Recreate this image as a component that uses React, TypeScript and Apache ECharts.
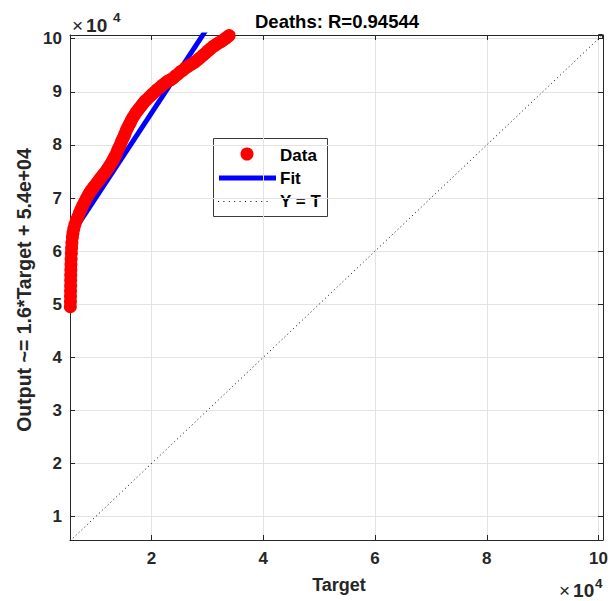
import { useEffect, useRef } from "react";
import * as echarts from "echarts";

const TITLE = "Deaths: R=0.94544";
const X_LABEL = "Target";
const Y_LABEL = "Output ~= 1.6*Target + 5.4e+04";
const LEGEND_LABELS = ["Data", "Fit", "Y = T"];

const X_LIMITS = [5420, 100800];
const Y_LIMITS = [5610, 100700];
const X_TICKS = [20000, 40000, 60000, 80000, 100000];
const Y_TICKS = [10000, 20000, 30000, 40000, 50000, 60000, 70000, 80000, 90000, 100000];

const DATA_TARGET = [
  5480, 5500, 5510, 5520, 5530, 5540, 5550, 5570, 5590, 5620, 5660, 5700, 5760, 5850, 5950,
  6100, 6300, 6550, 6850, 7100, 7400, 7700, 8050, 8350, 8650, 8950, 9250, 9550, 9850, 10150,
  10430, 10700, 11000, 11300, 11630, 11900, 12200, 12500, 12830, 13100, 13300, 13500, 13730,
  13950, 14200, 14400, 14620, 14850, 15100, 15300, 15520, 15750, 16000, 16200, 16420, 16700,
  17000, 17300, 17600, 17900, 18200, 18500, 18800, 19200, 19700, 20100, 20600, 21000, 21500,
  21900, 22400, 22800, 23100, 23500, 23900, 24300, 24800, 25200, 25660, 26100, 26560, 27000,
  27460, 27900, 28350, 28800, 29250, 29700, 30100, 30550, 31000, 31350, 31700, 32100, 32500,
  32850, 33200, 33550, 33900,
];
const DATA_OUTPUT = [
  49550, 50500, 51500, 52500, 53500, 54500, 55500, 56500, 57500, 58500, 59600, 60600, 61600,
  62600, 63400, 64200, 65000, 65800, 66500, 67200, 67900, 68600, 69300, 69900, 70500, 71000,
  71500, 71900, 72300, 72700, 73100, 73500, 73900, 74300, 74700, 75100, 75600, 76100, 76600,
  77100, 77500, 77900, 78400, 79000, 79500, 80000, 80600, 81100, 81700, 82200, 82800, 83300,
  83800, 84200, 84700, 85200, 85700, 86200, 86600, 87000, 87400, 87800, 88200, 88600, 89100,
  89500, 90000, 90400, 90800, 91200, 91600, 91900, 92100, 92300, 92600, 93000, 93400, 93800,
  94100, 94500, 94800, 95100, 95400, 95700, 96100, 96500, 96900, 97300, 97700, 98100, 98500,
  98750, 99000, 99250, 99500, 99750, 100000, 100300, 100600,
];

const FIT_TARGET = [5420, 29900];
const FIT_OUTPUT = [62670, 101840];
const IDENTITY = [5420, 100800];

const FONT = "'Liberation Sans', Arial, Helvetica, sans-serif";
const INK = "#262626";
const GRID_COLOR = "#e3e3e3";

export default function App() {
  const ref = useRef<HTMLDivElement>(null);

  useEffect(() => {
    if (!ref.current) return;
    const chart = echarts.init(ref.current, null, { renderer: "svg" });

    const fmt = (ticks: number[]) => (v: number) =>
      ticks.indexOf(Math.round(v)) >= 0 ? String(Math.round(v) / 10000) : "";

    const baseAxis = {
      type: "value" as const,
      axisLine: { show: true, onZero: false, lineStyle: { color: INK, width: 1 } },
      axisTick: { show: true, inside: true, length: 5, lineStyle: { color: INK } },
    };

    const expText = (x: number, y: number) => ({
      type: "text",
      x,
      y,
      style: {
        text: "{a|×}{b|10}",
        fill: INK,
        textAlign: "left",
        textVerticalAlign: "middle",
        rich: {
          a: { fontFamily: FONT, fontSize: 19, fill: INK, padding: [0, 3, 0, 0] },
          b: { fontFamily: FONT, fontSize: 19, fontWeight: "bold", fill: INK },
        },
      },
    });
    const expPow = (x: number, y: number) => ({
      type: "text",
      x,
      y,
      style: {
        text: "4",
        fontFamily: FONT,
        fontSize: 13.5,
        fontWeight: "bold",
        fill: INK,
        textAlign: "left",
        textVerticalAlign: "middle",
      },
    });

    const legendText = (label: string, y: number) => ({
      type: "text",
      x: 280,
      y,
      style: {
        text: label,
        fontFamily: FONT,
        fontWeight: "bold",
        fontSize: 17,
        fill: "#000000",
        textAlign: "left",
        textVerticalAlign: "middle",
      },
    });

    const option: any = {
      animation: false,
      backgroundColor: "#ffffff",
      grid: { left: 70, right: 8, top: 35, bottom: 61, containLabel: false },
      xAxis: [
        {
          ...baseAxis,
          position: "bottom",
          min: X_LIMITS[0],
          max: X_LIMITS[1],
          splitNumber: 5,
          minInterval: 20000,
          maxInterval: 20000,
          axisLabel: {
            show: true,
            formatter: fmt(X_TICKS),
            margin: 10,
            color: INK,
            fontWeight: "bold",
            fontSize: 17,
            fontFamily: FONT,
            showMinLabel: false,
            showMaxLabel: false,
          },
          splitLine: { show: true, lineStyle: { color: GRID_COLOR, width: 1 } },
        },
        {
          ...baseAxis,
          position: "top",
          min: X_LIMITS[0],
          max: X_LIMITS[1],
          splitNumber: 5,
          minInterval: 20000,
          maxInterval: 20000,
          axisLabel: { show: false },
          splitLine: { show: false },
        },
      ],
      yAxis: [
        {
          ...baseAxis,
          position: "left",
          min: Y_LIMITS[0],
          max: Y_LIMITS[1],
          splitNumber: 10,
          minInterval: 10000,
          maxInterval: 10000,
          axisLabel: {
            show: true,
            formatter: fmt(Y_TICKS),
            margin: 8,
            color: INK,
            fontWeight: "bold",
            fontSize: 17,
            fontFamily: FONT,
            showMinLabel: false,
            showMaxLabel: false,
          },
          splitLine: { show: true, lineStyle: { color: GRID_COLOR, width: 1 } },
        },
        {
          ...baseAxis,
          position: "right",
          min: Y_LIMITS[0],
          max: Y_LIMITS[1],
          splitNumber: 10,
          minInterval: 10000,
          maxInterval: 10000,
          axisLabel: { show: false },
          splitLine: { show: false },
        },
      ],
      series: [
        {
          name: LEGEND_LABELS[2],
          type: "line",
          xAxisIndex: 0,
          yAxisIndex: 0,
          data: [
            [IDENTITY[0], IDENTITY[0]],
            [IDENTITY[1], IDENTITY[1]],
          ],
          showSymbol: false,
          symbol: "none",
          clip: true,
          lineStyle: { color: "#000000", width: 1, type: [1, 3] },
          z: 1,
        },
        {
          name: LEGEND_LABELS[1],
          type: "line",
          xAxisIndex: 0,
          yAxisIndex: 0,
          data: FIT_TARGET.map((t, i) => [t, FIT_OUTPUT[i]]),
          showSymbol: false,
          symbol: "none",
          clip: true,
          lineStyle: { color: "#0000ff", width: 5 },
          z: 2,
        },
        {
          name: LEGEND_LABELS[0],
          type: "scatter",
          xAxisIndex: 0,
          yAxisIndex: 0,
          data: DATA_TARGET.map((t, i) => [t, DATA_OUTPUT[i]]),
          symbol: "circle",
          symbolSize: 13,
          itemStyle: { color: "#ff0000", opacity: 1 },
          z: 3,
        },
      ],
      graphic: [
        {
          type: "text",
          x: 337,
          y: 21,
          style: {
            text: TITLE,
            fontFamily: FONT,
            fontWeight: "bold",
            fontSize: 18.5,
            fill: "#000000",
            textAlign: "center",
            textVerticalAlign: "middle",
          },
        },
        {
          type: "text",
          x: 339,
          y: 585,
          style: {
            text: X_LABEL,
            fontFamily: FONT,
            fontWeight: "bold",
            fontSize: 18,
            fill: INK,
            textAlign: "center",
            textVerticalAlign: "middle",
          },
        },
        {
          type: "text",
          x: 24,
          y: 290,
          rotation: Math.PI / 2,
          style: {
            text: Y_LABEL,
            fontFamily: FONT,
            fontWeight: "bold",
            fontSize: 19.5,
            fill: INK,
            textAlign: "center",
            textVerticalAlign: "middle",
          },
        },
        expText(72, 25),
        expPow(113, 17),
        expText(559, 590),
        expPow(595, 583),
        {
          type: "rect",
          shape: { x: 598.5, y: 34.5, width: 4, height: 4 },
          style: { fill: "none", stroke: INK, lineWidth: 1 },
          z: 10,
        },
        {
          type: "group",
          z: 100,
          children: [
            {
              type: "rect",
              shape: { x: 213.5, y: 138.5, width: 114, height: 78 },
              style: { fill: "#ffffff", stroke: "#3a3a3a", lineWidth: 1 },
            },
            {
              type: "circle",
              shape: { cx: 247, cy: 154, r: 6.5 },
              style: { fill: "#ff0000" },
            },
            {
              type: "line",
              shape: { x1: 219, y1: 178, x2: 276, y2: 178 },
              style: { stroke: "#0000ff", lineWidth: 5 },
            },
            {
              type: "polyline",
              shape: {
                points: [
                  [218, 201.5],
                  [272, 201.5],
                ],
              },
              style: { stroke: "#000000", fill: "none", lineWidth: 1, lineDash: [1, 4.4] },
            },
            legendText(LEGEND_LABELS[0], 155),
            legendText(LEGEND_LABELS[1], 178),
            legendText(LEGEND_LABELS[2], 201),
          ],
        },
      ],
    };

    chart.setOption(option);
    return () => chart.dispose();
  }, []);

  return (
    <div
      ref={ref}
      style={{ position: "fixed", left: 0, top: 0, width: 611, height: 601, background: "#fff" }}
    />
  );
}
